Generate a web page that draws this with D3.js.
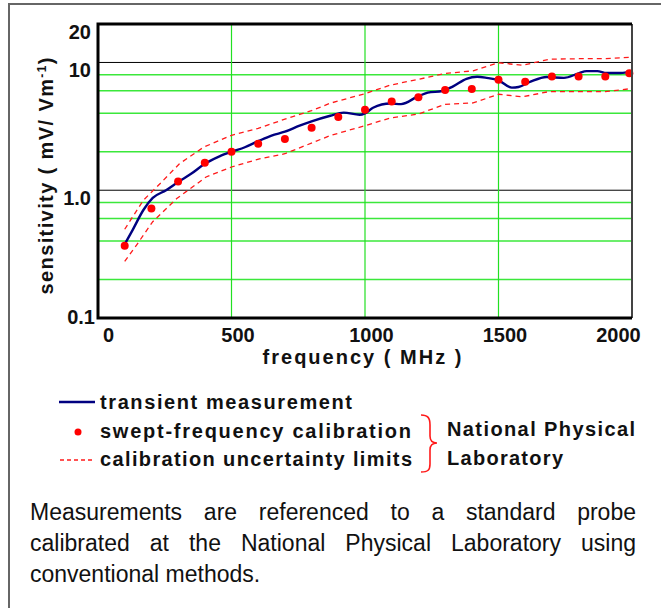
<!DOCTYPE html>
<html>
<head>
<meta charset="utf-8">
<script src="https://cdn.jsdelivr.net/npm/d3@7"></script>
<style>
  body { margin: 0; background: #fff; }
  #wrap { position: relative; width: 661px; height: 608px; overflow: hidden; }
  svg { position: absolute; left: 0; top: 0; }
  #note { position: absolute; left: 30px; top: 497px; width: 606px;
          font-family: "Liberation Sans", Arial, sans-serif; font-size: 23px; line-height: 31px; color: #111; }
  #note div { text-align: justify; text-align-last: justify; }
  #note div.last { text-align-last: left; }
</style>
</head>
<body>
<div id="wrap">
  <div id="chart-area"></div>
  <div id="note">
    <div>Measurements are referenced to a standard probe</div>
    <div>calibrated at the National Physical Laboratory using</div>
    <div class="last">conventional methods.</div>
  </div>
</div>
<script>

// transient measurement (MHz, mV/Vm-1)
var transientFreq = [100,130,170,205,255,300,350,400,455,500,550,600,650,700,755,800,870,920,980,1000,
    1030,1095,1135,1200,1235,1290,1330,1380,1420,1455,1500,1550,1575,1620,1680,1745,1800,1830,1870,1905,1945,1995];
var transientVal = [0.378,0.49,0.70,0.87,1.0,1.16,1.35,1.61,1.84,2.0,2.17,2.42,2.68,2.87,3.2,3.46,3.83,4.05,3.9,4.0,
    4.42,4.77,4.72,5.45,5.8,5.98,6.5,7.45,7.72,7.58,7.25,6.35,6.43,7.07,7.69,7.58,8.22,8.56,8.56,8.26,8.26,8.44];

// swept-frequency calibration points
var sweptFreq = [100,200,300,400,500,600,700,800,900,1000,1100,1200,1300,1400,1500,1600,1700,1800,1900,1990];
var sweptVal = [0.367,0.72,1.17,1.64,2.0,2.31,2.52,3.09,3.74,4.26,4.94,5.35,6.09,6.2,7.33,7.07,7.75,7.78,7.78,8.22];

// calibration uncertainty limits
var upperFreq = [100,170,220,305,395,500,600,700,800,870,1000,1095,1200,1300,1405,1500,1590,1690,1800,1900,2000];
var upperVal = [0.495,0.836,1.06,1.61,2.17,2.69,3.05,3.6,4.2,4.8,5.7,6.65,7.38,8.2,8.6,9.95,9.5,10.6,10.7,10.7,11.0];
var lowerFreq = [100,145,205,295,405,500,605,700,870,1000,1095,1200,1300,1405,1500,1590,1690,1800,1900,2000];
var lowerVal = [0.277,0.374,0.567,0.861,1.27,1.52,1.76,1.93,2.68,3.2,3.68,3.95,4.7,4.82,5.64,5.38,5.92,5.92,5.92,6.25];

var xTicks = [0,500,1000,1500,2000];
var yTicks = [0.1,1,10,20];
var yTickLabels = ["0.1","1.0","10","20"];
var majorGrid = [1,10];
var minorGrid = [0.2,0.4,0.6,0.8,2,4,6,8];
var xGrid = [500,1000,1500];

var legendLabels = ["transient measurement","swept-frequency calibration","calibration uncertainty limits"];
var labLabels = ["National Physical","Laboratory"];

var font = "'Liberation Sans', Arial, sans-serif";
var margin = {top: 24, right: 29, bottom: 290, left: 98};
var W = 661, H = 608;
var width = W - margin.left - margin.right;
var height = H - margin.top - margin.bottom;

var svg = d3.select("#chart-area").append("svg")
    .attr("width", W)
    .attr("height", H)
    .style("font-family", font);

// outer frame
svg.append("rect")
    .attr("x", 9).attr("y", 4)
    .attr("width", 700).attr("height", 700)
    .attr("fill", "none")
    .attr("stroke", "#666")
    .attr("stroke-width", 2);

var g = svg.append("g")
    .attr("transform", "translate(" + margin.left + "," + margin.top + ")");

var x = d3.scaleLinear().domain([0, 2000]).range([0, width]);
var y = d3.scaleLog().domain([0.1, 20]).range([height, 0]);

// grid
g.selectAll(".minor").data(minorGrid).enter().append("line")
    .attr("x1", 0).attr("x2", width)
    .attr("y1", d => y(d)).attr("y2", d => y(d))
    .attr("stroke", "#3be83b").attr("stroke-width", 1.5);
g.selectAll(".major").data(majorGrid).enter().append("line")
    .attr("x1", 0).attr("x2", width)
    .attr("y1", d => y(d)).attr("y2", d => y(d))
    .attr("stroke", "#000").attr("stroke-width", 1);
g.selectAll(".vgrid").data(xGrid).enter().append("line")
    .attr("x1", d => x(d)).attr("x2", d => x(d))
    .attr("y1", 0).attr("y2", height)
    .attr("stroke", "#22e022").attr("stroke-width", 1.2);

// limits
var limitLine = d3.line()
    .x(d => x(d[0]))
    .y(d => y(d[1]));
[[upperFreq, upperVal], [lowerFreq, lowerVal]].forEach(function(s){
    g.append("path")
        .datum(d3.zip(s[0], s[1]))
        .attr("d", limitLine)
        .attr("fill", "none")
        .attr("stroke", "#ff1a1a")
        .attr("stroke-width", 1.3)
        .attr("stroke-dasharray", "5,4");
});

// transient measurement
var transLine = d3.line()
    .x(d => x(d[0]))
    .y(d => y(d[1]))
    .curve(d3.curveMonotoneX);
g.append("path")
    .datum(d3.zip(transientFreq, transientVal))
    .attr("d", transLine)
    .attr("fill", "none")
    .attr("stroke", "#000080")
    .attr("stroke-width", 2.4);

// swept points
g.selectAll(".swept").data(d3.zip(sweptFreq, sweptVal)).enter().append("circle")
    .attr("cx", d => x(d[0]))
    .attr("cy", d => y(d[1]))
    .attr("r", 4)
    .attr("fill", "#ff0000");

// plot border
g.append("line").attr("x1", width).attr("x2", width).attr("y1", 0).attr("y2", height)
    .attr("stroke", "#444").attr("stroke-width", 2);
g.append("path")
    .attr("d", "M" + width + ",0H0V" + height + "H" + width)
    .attr("fill", "none").attr("stroke", "#000").attr("stroke-width", 3);

// axes
var xAxis = d3.axisBottom(x).tickValues(xTicks).tickFormat(d3.format("d")).tickSize(0).tickPadding(10);
var gx = g.append("g").attr("transform", "translate(0," + height + ")").call(xAxis);
gx.select(".domain").remove();
gx.selectAll("text")
    .attr("font-family", font).attr("font-size", 20).attr("font-weight", "bold")
    .attr("fill", "#111")
    .attr("dx", (d, i) => i == 0 ? 10 : (i == xTicks.length - 1 ? -14 : 6))
    .attr("dy", "0.71em");

var yAxis = d3.axisLeft(y).tickValues(yTicks).tickFormat((d, i) => yTickLabels[i]).tickSize(0).tickPadding(7);
var gy = g.append("g").call(yAxis);
gy.select(".domain").remove();
gy.selectAll("text")
    .attr("font-family", font).attr("font-size", 20).attr("font-weight", "bold")
    .attr("fill", "#111")
    .attr("dx", (d) => d == 0.1 ? 4 : 0)
    .attr("dy", (d) => d == 0.1 ? "0.27em" : "0.72em");

// axis titles
svg.append("text")
    .attr("x", 362).attr("y", 364)
    .attr("text-anchor", "middle")
    .attr("font-size", 20).attr("font-weight", "bold").attr("fill", "#111")
    .attr("textLength", 199).attr("lengthAdjust", "spacing")
    .text("frequency ( MHz )");

var yl = svg.append("text")
    .attr("transform", "translate(53,176) rotate(-90)")
    .attr("text-anchor", "middle")
    .attr("font-size", 20).attr("font-weight", "bold").attr("fill", "#111")
    .attr("textLength", 237).attr("lengthAdjust", "spacing");
yl.append("tspan").text("sensitivity ( mV/ Vm");
yl.append("tspan").attr("font-size", 12).attr("dy", -7).text("-1");
yl.append("tspan").attr("dy", 7).text(")");

// legend
var leg = svg.append("g");
leg.append("line").attr("x1", 59).attr("x2", 95).attr("y1", 402).attr("y2", 402)
    .attr("stroke", "#000080").attr("stroke-width", 2.6);
leg.append("circle").attr("cx", 78).attr("cy", 432).attr("r", 3.5).attr("fill", "#ff0000");
leg.append("line").attr("x1", 60).attr("x2", 95).attr("y1", 460).attr("y2", 460)
    .attr("stroke", "#ff1a1a").attr("stroke-width", 1.5).attr("stroke-dasharray", "4,3");

var legLengths = [252, 311, 312];
leg.selectAll(".lt").data(legendLabels).enter().append("text")
    .attr("x", 100).attr("y", (d, i) => 409 + i * 28.5)
    .attr("font-size", 20).attr("font-weight", "bold").attr("fill", "#111")
    .attr("textLength", (d, i) => legLengths[i]).attr("lengthAdjust", "spacing")
    .text(d => d);

// brace
leg.append("path")
    .attr("d", "M421,415 C428,415 430,418 430,425 L430,436 C430,441 432,443 437,443 C432,443 430,445 430,450 L430,464 C430,470 428,472 421,472")
    .attr("fill", "none").attr("stroke", "#ff1a1a").attr("stroke-width", 1.6);

var labLengths = [188, 116];
leg.selectAll(".lab").data(labLabels).enter().append("text")
    .attr("x", 447).attr("y", (d, i) => 436 + i * 28.5)
    .attr("font-size", 20).attr("font-weight", "bold").attr("fill", "#111")
    .attr("textLength", (d, i) => labLengths[i]).attr("lengthAdjust", "spacing")
    .text(d => d);
</script>
</body>
</html>
